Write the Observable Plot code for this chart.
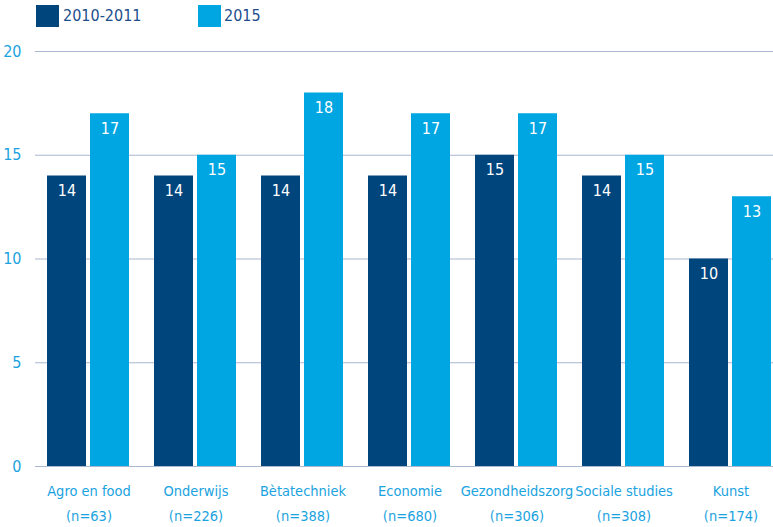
<!DOCTYPE html>
<html>
<head>
<meta charset="utf-8">
<script src="https://cdn.jsdelivr.net/npm/d3@7"></script>
<script src="https://cdn.jsdelivr.net/npm/@observablehq/plot@0.6"></script>
<style>
  html, body { margin: 0; padding: 0; background: #fff; }
  body { width: 773px; height: 527px; overflow: hidden; font-family: "Liberation Sans Narrow", "DejaVu Sans Condensed", sans-serif; }
  #legend { position: relative; height: 35px; }
  .sw { position: absolute; top: 5px; width: 23px; height: 22px; }
  .lt { position: absolute; top: 4px; font-size: 16px; color: #1d4f8c; line-height: 24px; }
</style>
</head>
<body>
<div id="legend"></div>
<div id="chart"></div>
<script>
const categories = ["Agro en food", "Onderwijs", "Bètatechniek", "Economie", "Gezondheidszorg", "Sociale studies", "Kunst"];
const counts = [63, 226, 388, 680, 306, 308, 174];
const seriesNames = ["2010-2011", "2015"];
const values2010 = [14, 14, 14, 14, 15, 14, 10];
const values2015 = [17, 15, 18, 17, 17, 15, 13];
const yTicks = [0, 5, 10, 15, 20];
const colors = ["#00457c", "#00a6e2"];

const data = [];
categories.forEach((c, i) => {
  data.push({cat: c, series: seriesNames[0], value: values2010[i]});
  data.push({cat: c, series: seriesNames[1], value: values2015[i]});
});
const labelOf = Object.fromEntries(categories.map((c, i) => [c, `${c}\n(n=${counts[i]})`]));

// legend
const legend = document.getElementById("legend");
const legendPos = [[36, 63], [198, 224]];
seriesNames.forEach((s, i) => {
  const sw = document.createElement("div");
  sw.className = "sw"; sw.style.left = legendPos[i][0] + "px"; sw.style.background = colors[i];
  const t = document.createElement("div");
  t.className = "lt"; t.style.left = legendPos[i][1] + "px"; t.textContent = s;
  legend.append(sw, t);
});

const chart = Plot.plot({
  width: 773,
  height: 492,
  marginLeft: 35,
  marginRight: 0,
  marginTop: 16,
  marginBottom: 61,
  style: {fontFamily: "'Liberation Sans Narrow', 'DejaVu Sans Condensed', sans-serif", fontSize: "16px", background: "#fff"},
  fx: {domain: categories, range: [34.5, 783.5], padding: 0, label: null},
  x: {domain: seriesNames, paddingInner: 0.093, paddingOuter: 0.272, axis: null},
  y: {domain: [0, 20], label: null, axis: null},
  color: {domain: seriesNames, range: colors},
  marks: [
    Plot.ruleY(yTicks, {stroke: "#a9b8d0", strokeWidth: 1.2}),
    Plot.axisY(yTicks, {tickSize: 0, tickPadding: 14, fill: "#1aa3e0", fontSize: 16, anchor: "left", label: null}),
    Plot.barY(data, {fx: "cat", x: "series", y: "value", fill: "series"}),
    Plot.text(data, {fx: "cat", x: "series", y: "value", text: d => String(d.value), dy: 15, fill: "white", fontSize: 16}),
    Plot.axisFx({anchor: "bottom", tickSize: 0, tickPadding: 12, tickFormat: d => labelOf[d], fill: "#1aa3e0", fontSize: 14.5, lineHeight: 1.7, label: null})
  ]
});
document.getElementById("chart").append(chart);
</script>
</body>
</html>
